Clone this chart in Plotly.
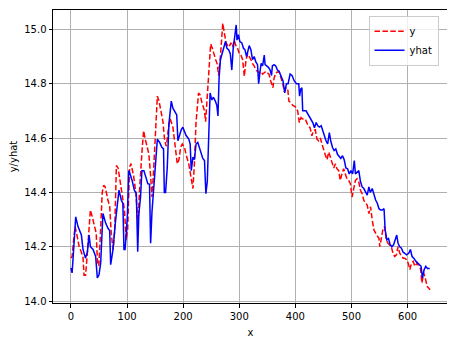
import plotly.graph_objects as go

# yhat series (blue, solid) - vertices
yhat_x = [0, 2, 4, 8.5, 12.6, 18.6, 21.5, 25.8, 29.3, 32.3, 34.7, 39.4, 44, 47, 50, 53, 57, 62, 66, 69, 70.8, 73, 75, 79, 82, 85.6, 89.8, 92.5, 94.5, 96.5, 100.5, 103, 105, 109, 113, 116.5, 119, 121, 124, 126.5, 130, 133, 137, 140, 142, 144.4, 147, 151, 154, 158, 162, 165, 166.4, 168.6, 171.6, 174.6, 178.8, 181.7, 186, 188.5, 190.6, 193.5, 196.5, 199.4, 202.4, 205, 210, 212.5, 214.4, 217.4, 220, 223, 226, 230, 235, 238, 240.5, 243, 245.5, 248, 251, 254, 257.5, 260, 262, 264, 266.4, 269.4, 272, 275.4, 278, 281, 284, 286.7, 289, 292, 294.5, 296, 298.4, 301, 304.5, 307.5, 310, 313, 316, 317.7, 320.7, 323.6, 326.6, 329.5, 332.5, 334.5, 337, 339, 341.6, 344.5, 346, 349, 352, 355, 357.5, 359, 362, 365, 368, 371, 375, 378, 381, 384, 387, 390.6, 394, 398, 402, 406, 407.5, 409.5, 411.6, 413, 419, 425, 431, 434, 437, 440, 443, 446, 449, 452, 454.6, 457.5, 460.5, 463, 466, 469, 472, 475, 478, 481, 484, 487, 490, 493, 496, 499, 502, 505, 507, 510, 513, 516, 519, 522, 525, 528, 531, 533.5, 537, 540, 543, 546, 549, 552, 555, 558, 560, 563, 566, 569, 572, 575, 578, 580.6, 583, 586, 589, 592, 595, 598, 602, 605, 608, 611, 615, 620, 624, 626.5, 629.5, 632.4, 635.4, 639.5]
yhat_y = [14.122, 14.104, 14.164, 14.31, 14.274, 14.243, 14.19, 14.158, 14.18, 14.243, 14.2, 14.19, 14.164, 14.085, 14.097, 14.14, 14.322, 14.286, 14.268, 14.26, 14.134, 14.158, 14.19, 14.286, 14.335, 14.408, 14.371, 14.36, 14.19, 14.19, 14.31, 14.48, 14.47, 14.444, 14.408, 14.395, 14.182, 14.32, 14.383, 14.48, 14.48, 14.46, 14.432, 14.43, 14.213, 14.328, 14.40, 14.517, 14.596, 14.584, 14.566, 14.56, 14.40, 14.40, 14.49, 14.651, 14.736, 14.71, 14.69, 14.685, 14.59, 14.614, 14.63, 14.64, 14.62, 14.61, 14.596, 14.578, 14.48, 14.53, 14.52, 14.578, 14.584, 14.56, 14.525, 14.517, 14.395, 14.44, 14.62, 14.766, 14.74, 14.75, 14.735, 14.72, 14.681, 14.82, 14.888, 14.91, 14.93, 14.955, 14.93, 14.925, 14.91, 14.85, 14.925, 14.97, 15.016, 14.96, 14.98, 14.955, 14.95, 14.93, 14.925, 14.90, 14.93, 14.94, 14.925, 14.888, 14.90, 14.88, 14.87, 14.80, 14.845, 14.875, 14.865, 14.905, 14.87, 14.865, 14.86, 14.85, 14.83, 14.865, 14.87, 14.865, 14.85, 14.845, 14.82, 14.81, 14.766, 14.80, 14.80, 14.835, 14.83, 14.81, 14.80, 14.80, 14.754, 14.78, 14.785, 14.70, 14.70, 14.68, 14.657, 14.638, 14.657, 14.645, 14.64, 14.645, 14.625, 14.61, 14.59, 14.578, 14.62, 14.59, 14.566, 14.554, 14.56, 14.54, 14.53, 14.525, 14.535, 14.52, 14.49, 14.487, 14.468, 14.48, 14.468, 14.517, 14.468, 14.474, 14.48, 14.44, 14.42, 14.414, 14.40, 14.39, 14.42, 14.40, 14.414, 14.39, 14.372, 14.36, 14.34, 14.335, 14.335, 14.34, 14.262, 14.225, 14.23, 14.207, 14.2, 14.207, 14.225, 14.243, 14.213, 14.2, 14.195, 14.18, 14.176, 14.17, 14.176, 14.19, 14.164, 14.158, 14.146, 14.134, 14.128, 14.085, 14.116, 14.128, 14.12, 14.12]

# y series (red, dashed)
y_x = [0, 2, 4.5, 7.4, 10, 14.6, 18.6, 21.5, 23.3, 26, 28.6, 31.5, 34.6, 38, 42, 45, 47.3, 49.7, 52.6, 55.7, 58.4, 61, 66, 69, 71.8, 75, 78, 81, 84, 88, 92.5, 95.4, 98.4, 101, 104.6, 107, 111.7, 115.6, 119.6, 122, 126.5, 129.5, 132, 135.4, 138.9, 142, 144.4, 147, 151, 154, 157, 161, 164, 167, 170, 174.6, 177, 181.7, 184.7, 187.6, 189.5, 192.5, 195.5, 198.4, 202.4, 205, 210, 214.4, 217.4, 220, 223, 227.4, 230, 233.5, 238, 240, 242.5, 245, 249, 252, 254.5, 258, 261, 263, 266.4, 269, 270.6, 273.5, 276.5, 279.4, 282, 285, 288, 291, 294, 297, 300, 303, 306, 309, 312, 315, 318, 320.7, 323.6, 326.6, 329.5, 332.5, 335.5, 338.5, 341.6, 344.5, 347.4, 350, 353, 356, 360, 362, 365, 371, 374.5, 377.5, 380.4, 383.4, 386.4, 388.4, 391.5, 395.5, 400, 404, 407, 410, 413, 417.6, 421.7, 426, 429.5, 432, 435.5, 438.4, 441.4, 444.4, 447.4, 450.4, 453, 456.4, 459.4, 462.3, 465.3, 468.3, 471.3, 474, 477.2, 480, 483, 486, 489, 492, 495, 498, 501, 504, 507, 510, 513, 516, 519, 522, 525, 528, 531, 534, 537, 540, 543, 546, 549, 550.5, 553, 556.4, 559, 562, 565, 568, 571, 574, 577, 580, 583, 586, 589, 592, 595, 598, 601, 604, 607, 610, 613, 617, 620, 623, 625.5, 628.5, 631.5, 634.5, 637.4, 640]
y_y = [14.158, 14.164, 14.22, 14.274, 14.25, 14.20, 14.18, 14.16, 14.095, 14.095, 14.16, 14.25, 14.335, 14.31, 14.274, 14.25, 14.14, 14.13, 14.25, 14.40, 14.426, 14.42, 14.37, 14.35, 14.25, 14.19, 14.26, 14.499, 14.49, 14.44, 14.37, 14.335, 14.225, 14.26, 14.493, 14.506, 14.46, 14.40, 14.286, 14.40, 14.547, 14.627, 14.60, 14.566, 14.54, 14.46, 14.383, 14.47, 14.627, 14.754, 14.736, 14.69, 14.66, 14.59, 14.57, 14.65, 14.67, 14.64, 14.59, 14.55, 14.505, 14.52, 14.566, 14.578, 14.566, 14.54, 14.505, 14.45, 14.414, 14.505, 14.66, 14.765, 14.76, 14.73, 14.70, 14.66, 14.74, 14.86, 14.946, 14.93, 14.91, 14.888, 14.87, 14.83, 14.90, 14.998, 15.022, 14.985, 14.95, 14.94, 14.935, 14.95, 14.935, 14.96, 14.94, 14.93, 14.91, 14.905, 14.888, 14.827, 14.888, 14.91, 14.90, 14.888, 14.875, 14.865, 14.85, 14.845, 14.84, 14.845, 14.835, 14.84, 14.845, 14.84, 14.835, 14.81, 14.785, 14.82, 14.84, 14.845, 14.825, 14.80, 14.77, 14.785, 14.78, 14.736, 14.73, 14.72, 14.715, 14.70, 14.657, 14.675, 14.67, 14.67, 14.65, 14.638, 14.608, 14.627, 14.63, 14.596, 14.59, 14.60, 14.578, 14.554, 14.54, 14.52, 14.548, 14.53, 14.505, 14.49, 14.505, 14.487, 14.48, 14.444, 14.468, 14.487, 14.468, 14.45, 14.444, 14.432, 14.383, 14.42, 14.444, 14.45, 14.438, 14.408, 14.395, 14.37, 14.36, 14.353, 14.322, 14.347, 14.298, 14.262, 14.25, 14.237, 14.23, 14.20, 14.23, 14.268, 14.274, 14.225, 14.213, 14.207, 14.2, 14.176, 14.164, 14.17, 14.2, 14.176, 14.164, 14.158, 14.158, 14.152, 14.14, 14.116, 14.14, 14.146, 14.128, 14.14, 14.128, 14.12, 14.067, 14.104, 14.085, 14.055, 14.048, 14.042]

x_ticks = [0, 100, 200, 300, 400, 500, 600]
y_ticks = [14.0, 14.2, 14.4, 14.6, 14.8, 15.0]

fig = go.Figure()
fig.add_trace(go.Scatter(x=y_x, y=y_y, mode="lines", name="y",
                         line=dict(color="red", width=1.5, dash="5.5px,2.4px")))
fig.add_trace(go.Scatter(x=yhat_x, y=yhat_y, mode="lines", name="yhat",
                         line=dict(color="blue", width=1.5)))

axis_common = dict(showgrid=True, gridcolor="#b0b0b0", gridwidth=0.8,
                   showline=True, linecolor="black", linewidth=1, mirror=True,
                   ticks="outside", ticklen=3.5, tickcolor="black", tickwidth=0.8,
                   zeroline=False, automargin=False,
                   tickfont=dict(size=10, color="black"))

# the page body adds an 8px offset, so the figure is sized to fill the rest
fig.update_layout(
    width=447, height=332,
    margin=dict(l=45, r=7, t=1.5, b=37),
    paper_bgcolor="white", plot_bgcolor="white",
    font=dict(family="DejaVu Sans", size=10, color="black"),
    xaxis=dict(range=[-32, 672], tickvals=x_ticks,
               title=dict(text="x", standoff=8, font=dict(size=10)), **axis_common),
    yaxis=dict(range=[13.993, 15.071], tickvals=y_ticks,
               ticktext=[f"{v:.1f}" for v in y_ticks],
               title=dict(text="y/yhat", standoff=4, font=dict(size=10)), **axis_common),
    legend=dict(x=0.976, y=0.98, xanchor="right", yanchor="top",
                bgcolor="rgba(255,255,255,0.8)", bordercolor="#cccccc", borderwidth=1,
                font=dict(size=10), itemwidth=30, tracegroupgap=0),
    showlegend=True,
)

fig.write_html("out.html")
